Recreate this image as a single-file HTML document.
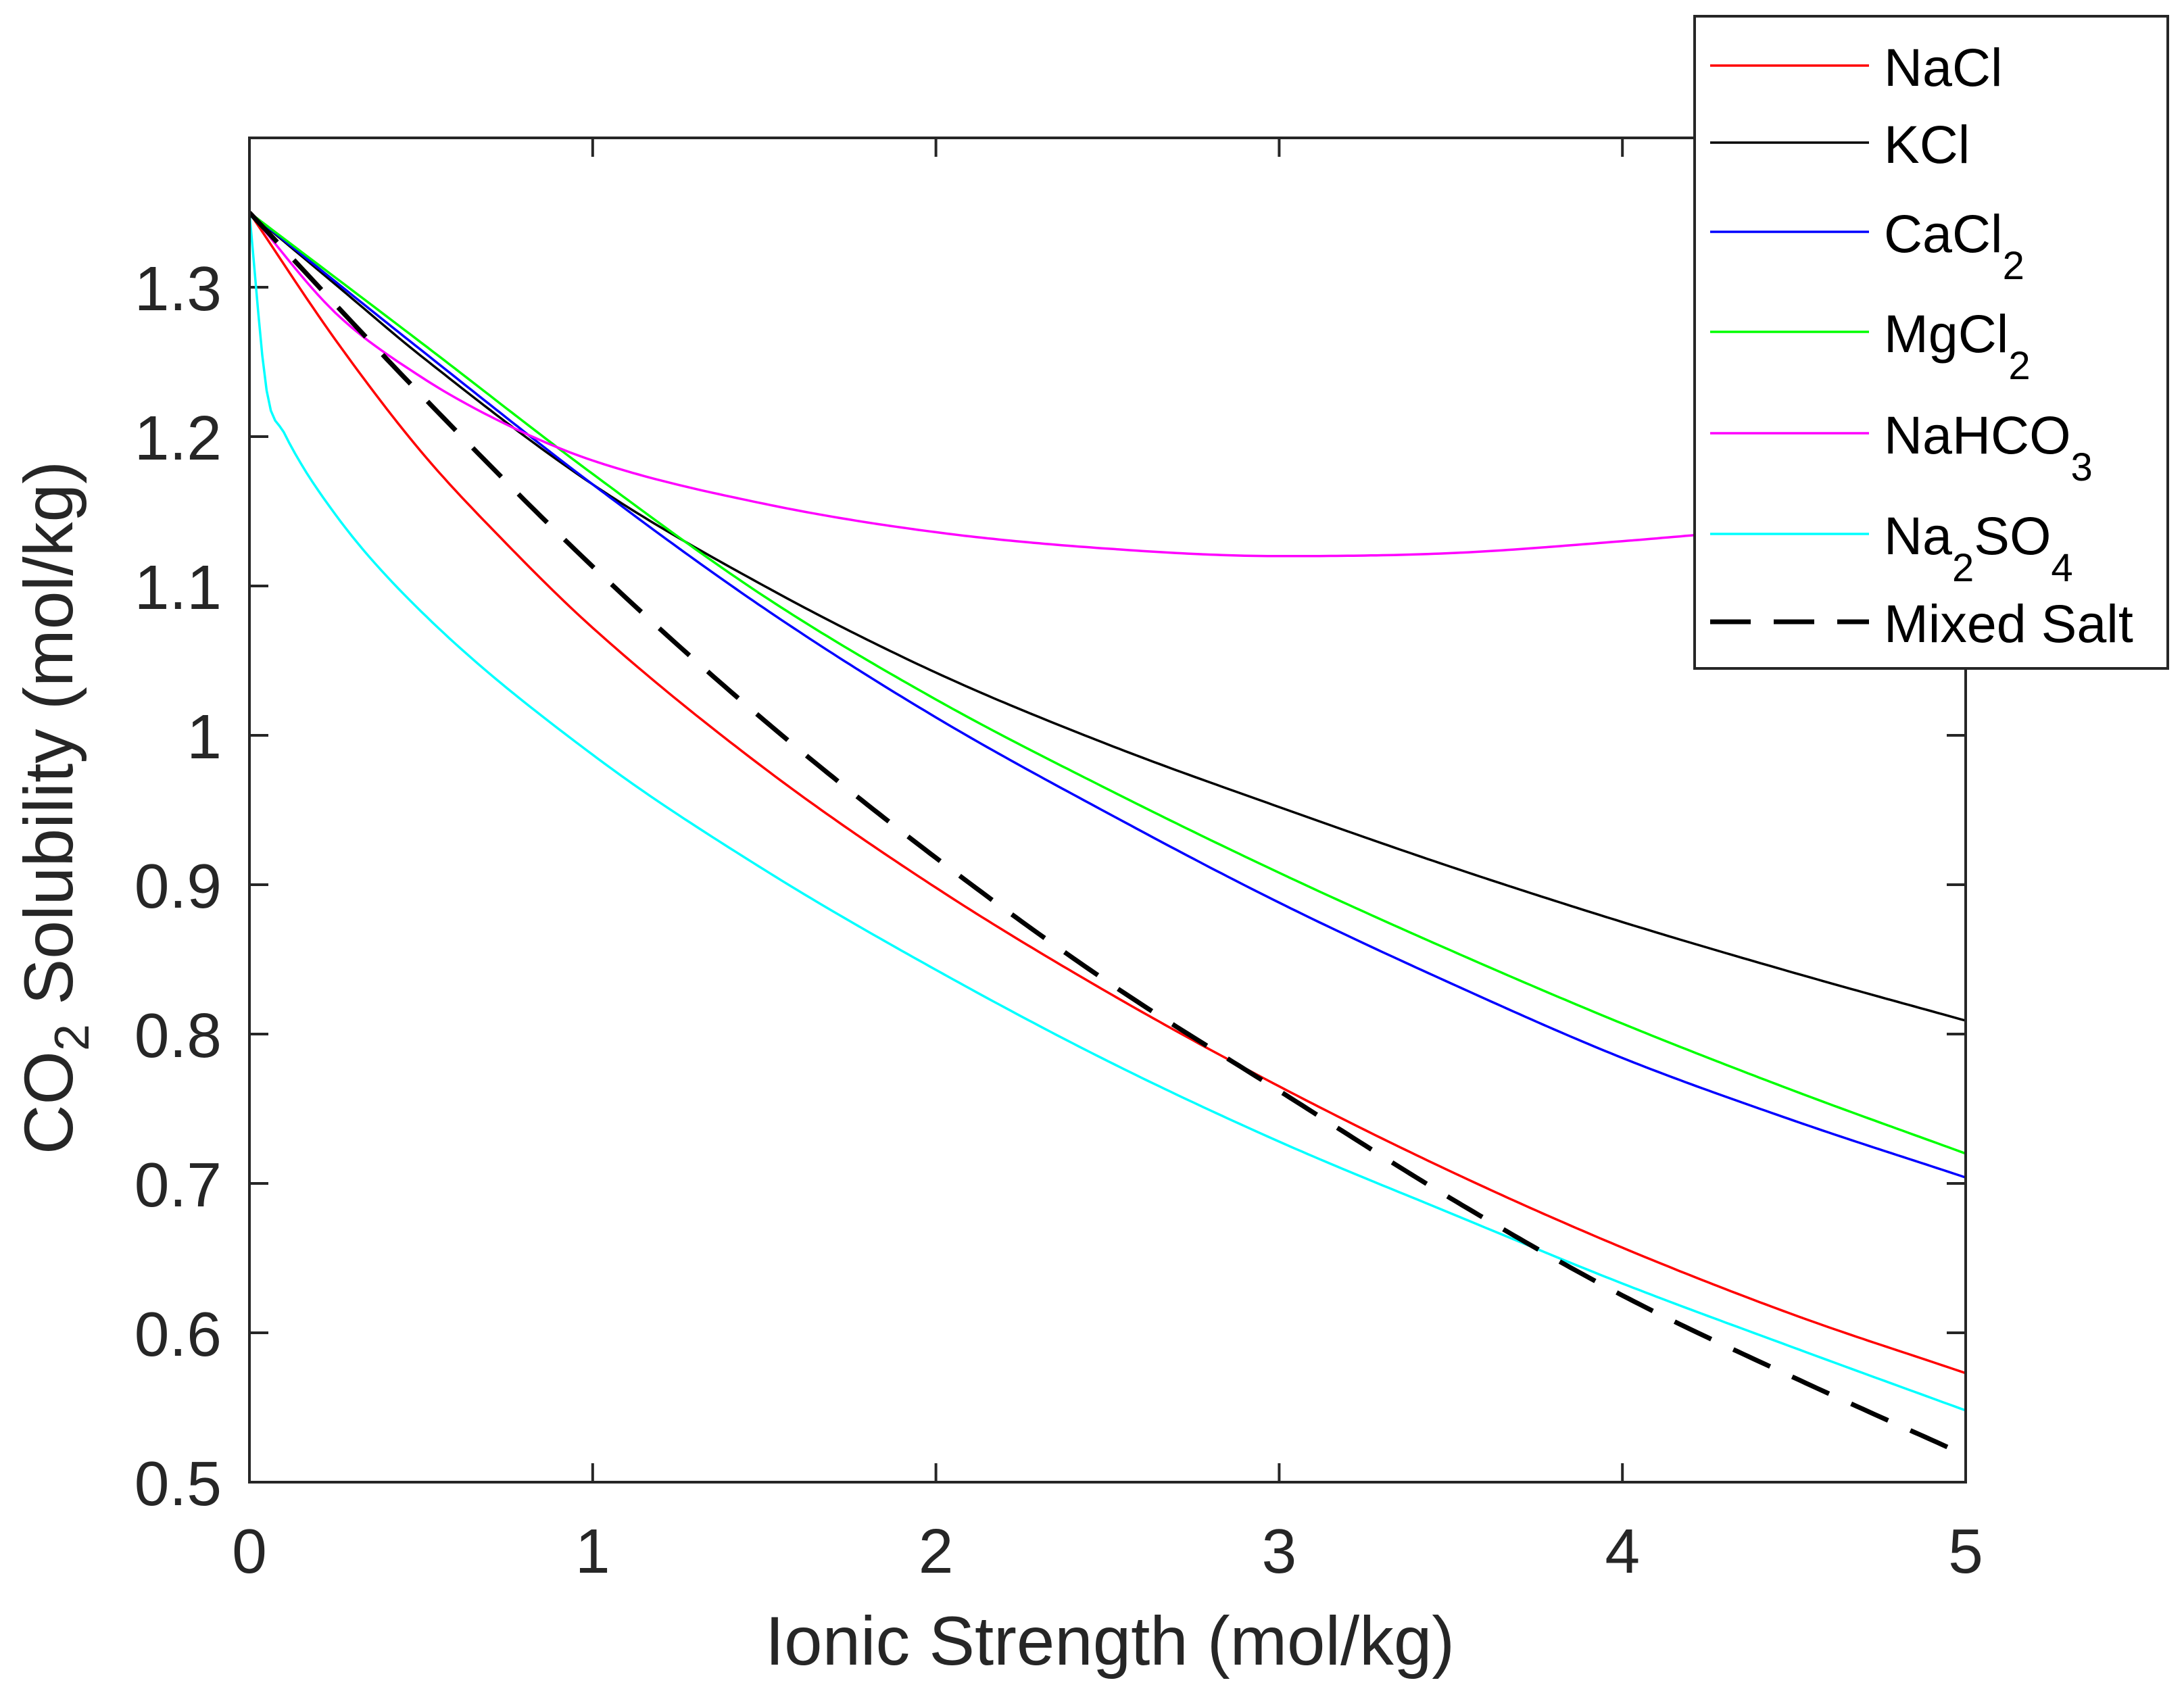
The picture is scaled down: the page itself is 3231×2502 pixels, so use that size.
<!DOCTYPE html>
<html><head><meta charset="utf-8"><style>
html,body{margin:0;padding:0;background:#fff}
svg{display:block;font-family:"Liberation Sans",Arial,sans-serif}
</style></head><body>
<svg id="chart" width="3231" height="2502" viewBox="0 0 3231 2502" xmlns="http://www.w3.org/2000/svg">
<rect width="3231" height="2502" fill="#fff"/>
<g id="plot"></g>
</svg>
<script>
const xTicks = [0,1,2,3,4,5];
const yTicks = [0.5,0.6,0.7,0.8,0.9,1,1.1,1.2,1.3];
const yTickLabels = ["0.5","0.6","0.7","0.8","0.9","1","1.1","1.2","1.3"];
const xNaCl = [0,0.25,0.5,0.75,1,1.5,2,2.5,3,3.5,4,4.5,5];
const yNaCl = [1.35,1.265,1.19,1.128,1.072,0.978,0.898,0.828,0.765,0.708,0.657,0.612,0.573];
const xKCl = [0,0.25,0.5,1,1.5,2,2.5,3,3.5,4,4.5,5];
const yKCl = [1.35,1.302,1.254,1.168,1.10,1.042,0.994,0.952,0.912,0.875,0.841,0.809];
const xCaCl2 = [0,0.5,1,1.5,2,2.5,3,3.5,4,4.5,5];
const yCaCl2 = [1.35,1.258,1.168,1.085,1.012,0.948,0.888,0.834,0.784,0.742,0.704];
const xMgCl2 = [0,0.5,1,1.5,2,2.5,3,3.5,4,4.5,5];
const yMgCl2 = [1.35,1.263,1.175,1.093,1.024,0.964,0.908,0.856,0.807,0.762,0.72];
const xNaHCO3 = [0,0.25,0.5,0.75,1,1.5,2,2.5,3,3.5,4,4.5,5];
const yNaHCO3 = [1.35,1.283,1.24,1.208,1.184,1.155,1.136,1.125,1.12,1.122,1.13,1.14,1.15];
const xNa2SO4 = [0,0.05,0.1,0.25,0.5,1,1.5,2,2.5,3,3.5,4,4.5,5];
const yNa2SO4 = [1.35,1.231,1.203,1.148,1.083,0.987,0.91,0.843,0.782,0.728,0.68,0.633,0.59,0.548];
const xMixed = [0,0.5,1,1.5,2,2.5,3,3.5,4,4.5,5];
const yMixed = [1.35,1.228,1.113,1.01,0.918,0.835,0.762,0.69,0.625,0.57,0.518];

const L=369,R=2908,T=204,B=2193, X0=0,X1=5,Y0=0.5,Y1=1.4;
const sx=v=>L+(v-X0)/(X1-X0)*(R-L);
const sy=v=>B-(v-Y0)/(Y1-Y0)*(B-T);
const NS="http://www.w3.org/2000/svg";
const g=document.getElementById('plot');
function el(tag,attrs,parent){const e=document.createElementNS(NS,tag);for(const k in attrs)e.setAttribute(k,attrs[k]);(parent||g).appendChild(e);return e;}
const AX="#262626";
xTicks.forEach((v,i)=>{
  const t=el('line',{x1:sx(v),x2:sx(v),y1:B,y2:B-28,stroke:AX,'stroke-width':4});
  
  
  const t2=el('line',{x1:sx(v),x2:sx(v),y1:T,y2:T+28,stroke:AX,'stroke-width':4});
  
  
  const lb=el('text',{x:sx(v),y:2327,'text-anchor':'middle','font-size':93,fill:AX});
  lb.textContent=String(v);
  
  
});
yTicks.forEach((v,i)=>{
  const t=el('line',{x1:L,x2:L+28,y1:sy(v),y2:sy(v),stroke:AX,'stroke-width':4});
  
  
  const t2=el('line',{x1:R,x2:R-28,y1:sy(v),y2:sy(v),stroke:AX,'stroke-width':4});
  
  
  const lb=el('text',{x:328,y:sy(v)+34,'text-anchor':'end','font-size':93,fill:AX});
  lb.textContent=yTickLabels[i];
  
  
});
const series=[
 {n:'nacl',x:xNaCl,y:yNaCl,c:'#ff0000'},
 {n:'kcl',x:xKCl,y:yKCl,c:'#000000'},
 {n:'cacl2',x:xCaCl2,y:yCaCl2,c:'#0000ff'},
 {n:'mgcl2',x:xMgCl2,y:yMgCl2,c:'#00ff00'},
 {n:'nahco3',x:xNaHCO3,y:yNaHCO3,c:'#ff00ff'},
 {n:'na2so4',x:xNa2SO4,y:yNa2SO4,c:'#00ffff'},
 {n:'mixed',x:xMixed,y:yMixed,c:'#000000',dash:true}
];
// monotone cubic (Fritsch-Carlson) interpolation in data space
function monoPath(xs,ys){
  const n=xs.length,d=[],m=[];
  for(let i=0;i<n-1;i++)d.push((ys[i+1]-ys[i])/(xs[i+1]-xs[i]));
  m[0]=d[0];m[n-1]=d[n-2];
  for(let i=1;i<n-1;i++){m[i]=(d[i-1]*d[i]<=0)?0:(d[i-1]+d[i])/2;}
  for(let i=0;i<n-1;i++){
    if(d[i]===0){m[i]=0;m[i+1]=0;continue;}
    const a=m[i]/d[i],b=m[i+1]/d[i],s=a*a+b*b;
    if(s>9){const t=3/Math.sqrt(s);m[i]=t*a*d[i];m[i+1]=t*b*d[i];}
  }
  let pts=[];
  for(let i=0;i<n-1;i++){
    const h=xs[i+1]-xs[i],steps=Math.max(4,Math.ceil(h*60));
    for(let k=0;k<steps;k++){
      const t=k/steps,t2=t*t,t3=t2*t;
      const y=(2*t3-3*t2+1)*ys[i]+(t3-2*t2+t)*h*m[i]+(-2*t3+3*t2)*ys[i+1]+(t3-t2)*h*m[i+1];
      pts.push(sx(xs[i]+t*h).toFixed(1)+','+sy(y).toFixed(1));
    }
  }
  pts.push(sx(xs[n-1]).toFixed(1)+','+sy(ys[n-1]).toFixed(1));
  return 'M'+pts.join(' L');
}
const clip=el('clipPath',{id:'pc'});el('rect',{x:L,y:T,width:R-L,height:B-T},clip);
series.forEach(s=>{
  const a={d:monoPath(s.x,s.y),fill:'none',stroke:s.c,'stroke-width':s.dash?7:3.5,'stroke-linejoin':'round','clip-path':'url(#pc)'};
  if(s.dash)a['stroke-dasharray']='60 36';
  const p=el('path',a);
  
  
});
const box=el('rect',{x:L,y:T,width:R-L,height:B-T,fill:'none',stroke:AX,'stroke-width':4});


const xl=el('text',{x:1642,y:2463,'text-anchor':'middle','font-size':102,fill:AX,textLength:1020,lengthAdjust:'spacingAndGlyphs'});
xl.textContent='Ionic Strength (mol/kg)';


const yl=el('text',{transform:'translate(107,1195) rotate(-90)','text-anchor':'middle','font-size':102,fill:AX});
yl.innerHTML='CO<tspan font-size="72" dy="24">2</tspan><tspan dy="-24"> Solubility (mol/kg)</tspan>';


const lg=el('g',{});


el('rect',{x:2507,y:24,width:700,height:965,fill:'#fff',stroke:AX,'stroke-width':4},lg);
const legY=[97,211,343,491,641,790,920];
const legLabels=[['NaCl'],['KCl'],['CaCl','2'],['MgCl','2'],['NaHCO','3'],['Na','2','SO','4'],['Mixed Salt']];
series.forEach((s,i)=>{
  const a={x1:2530,x2:2765,y1:legY[i],y2:legY[i],stroke:s.c,'stroke-width':s.dash?7:3.5};
  if(s.dash)a['stroke-dasharray']='60 34';
  const ln=el('line',a,lg);
  
  
  const tx=el('text',{x:2787,y:legY[i]+30,'font-size':79,fill:'#000'},lg);
  let h='';const parts=legLabels[i];
  parts.forEach((p,j)=>{ if(j%2===0) h+='<tspan'+(j>0?' dy="-40"':'')+'>'+p+'</tspan>'; else h+='<tspan font-size="58" dy="40">'+p+'</tspan>'; });
  tx.innerHTML=h;
  
  
});
</script>
</body></html>
